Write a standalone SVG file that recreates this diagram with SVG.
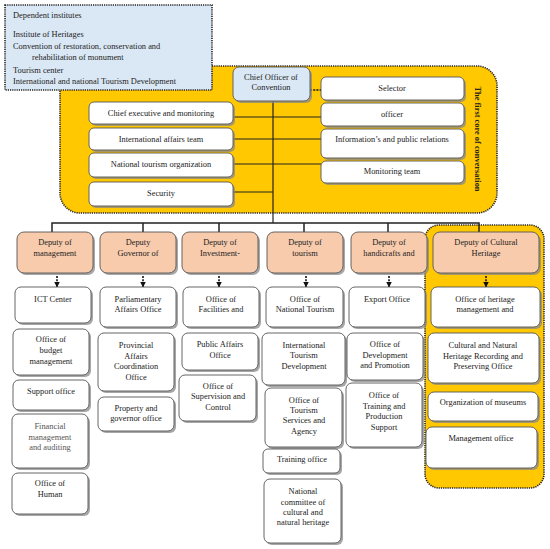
<svg xmlns="http://www.w3.org/2000/svg" width="550" height="549" viewBox="0 0 550 549">
<style>
text{font-family:"Liberation Serif","Times New Roman",serif;font-size:8.4px;fill:#222;text-anchor:middle}
.l{text-anchor:start}
.b{fill:#fff;stroke:#555;stroke-width:0.9}
.sh{fill:#8a8a8a;opacity:0.75}
.dep{fill:#f8cbad;stroke:#555;stroke-width:0.9}
.blue{fill:#dae8f5;stroke:#555;stroke-width:0.9}
.core{fill:#ffc800;stroke:#222;stroke-width:1.6;stroke-dasharray:1.2,1}
.ln{stroke:#222;stroke-width:1.2;fill:none}
.dl{stroke:#111;stroke-width:1.6;stroke-dasharray:2,1.2;fill:none}
</style>
<defs>
<marker id="ah" viewBox="0 0 10 10" refX="9" refY="5" markerWidth="3.5" markerHeight="3.5" orient="auto"><path d="M0,0 L10,5 L0,10 z" fill="#111"/></marker>
</defs>

<!-- core regions -->
<g id="core-convention">
<rect x="60" y="66" width="437" height="147" rx="20" class="core"/>
<text transform="translate(475,139) rotate(90)" style="font-weight:bold">The first core of conversation</text>
</g>
<g id="core-heritage">
<rect x="425" y="225" width="119" height="263" rx="14" class="core"/>
</g>

<!-- dependent institutes -->
<g id="dependent">
<rect x="5" y="5" width="207" height="85" class="blue" style="stroke:#222;stroke-width:1.6;stroke-dasharray:1.2,1"/>
<text class="l" x="13" y="18">Dependent institutes</text>
<text class="l" x="13" y="37">Institute of Heritages</text>
<text class="l" x="13" y="49">Convention of restoration, conservation and</text>
<text class="l" x="32" y="60">rehabilitation of monument</text>
<text class="l" x="13" y="73">Tourism center</text>
<text class="l" x="13" y="84">International and national Tourism Development</text>
</g>

<!-- connectors -->
<g id="connectors">
<path class="ln" d="M273,101 V223 M233,117 H321 M233,139 H321 M233,164 H321 M233,192 H273"/>
<path class="dl" d="M310,90 H321"/>
<path class="ln" style="stroke-width:1.5" d="M52,232 V223 H479 V232 M143,223 V232 M219,223 V232 M304,223 V232 M388,223 V232"/>
<path class="dl" marker-end="url(#ah)" d="M57,276 V287"/>
<path class="dl" marker-end="url(#ah)" d="M143,276 V287"/>
<path class="dl" marker-end="url(#ah)" d="M219,276 V287"/>
<path class="dl" marker-end="url(#ah)" d="M306,276 V287"/>
<path class="dl" marker-end="url(#ah)" d="M389,276 V287"/>
<path class="dl" marker-end="url(#ah)" d="M486,276 V287"/>
</g>

<g id="chief">
<rect x="235" y="69" width="77" height="34" rx="6" class="sh"/>
<rect x="233" y="67" width="77" height="34" rx="6" class="blue"/>
<text x="271" y="80">Chief Officer of</text>
<text x="271" y="90">Convention</text>
</g>

<g id="n-chief-exec"><rect x="91" y="104" width="144" height="22" rx="5" class="sh"/><rect x="89" y="102" width="144" height="22" rx="5" class="b"/><text x="161" y="116">Chief executive and monitoring</text></g>
<g id="n-intl-affairs"><rect x="91" y="130" width="144" height="22" rx="5" class="sh"/><rect x="89" y="128" width="144" height="22" rx="5" class="b"/><text x="161" y="142">International affairs team</text></g>
<g id="n-natl-tourism-org"><rect x="91" y="155" width="144" height="24" rx="5" class="sh"/><rect x="89" y="153" width="144" height="24" rx="5" class="b"/><text x="161" y="167">National tourism organization</text></g>
<g id="n-security"><rect x="91" y="184" width="144" height="24" rx="5" class="sh"/><rect x="89" y="182" width="144" height="24" rx="5" class="b"/><text x="161" y="196">Security</text></g>

<g id="n-selector"><rect x="323" y="79" width="143" height="23" rx="5" class="sh"/><rect x="321" y="77" width="143" height="23" rx="5" class="b"/><text x="392" y="91">Selector</text></g>
<g id="n-officer"><rect x="323" y="105" width="143" height="23" rx="5" class="sh"/><rect x="321" y="103" width="143" height="23" rx="5" class="b"/><text x="392" y="117">officer</text></g>
<g id="n-info"><rect x="323" y="131" width="143" height="29" rx="5" class="sh"/><rect x="321" y="129" width="143" height="29" rx="5" class="b"/><text x="392" y="142">Information’s and public relations</text></g>
<g id="n-monitoring"><rect x="323" y="163" width="143" height="22" rx="5" class="sh"/><rect x="321" y="161" width="143" height="22" rx="5" class="b"/><text x="392" y="174">Monitoring team</text></g>

<!-- deputies -->
<g id="d-management"><rect x="19" y="234" width="76" height="41" rx="7" class="sh"/><rect x="17" y="232" width="76" height="41" rx="7" class="dep"/><text x="55" y="245">Deputy of</text><text x="55" y="256">management</text></g>
<g id="d-governor"><rect x="102" y="234" width="76" height="41" rx="7" class="sh"/><rect x="100" y="232" width="76" height="41" rx="7" class="dep"/><text x="138" y="245">Deputy</text><text x="138" y="256">Governor of</text></g>
<g id="d-investment"><rect x="184" y="234" width="76" height="41" rx="7" class="sh"/><rect x="182" y="232" width="76" height="41" rx="7" class="dep"/><text x="220" y="245">Deputy of</text><text x="220" y="256">Investment-</text></g>
<g id="d-tourism"><rect x="269" y="234" width="76" height="41" rx="7" class="sh"/><rect x="267" y="232" width="76" height="41" rx="7" class="dep"/><text x="305" y="245">Deputy of</text><text x="305" y="256">tourism</text></g>
<g id="d-handicrafts"><rect x="353" y="234" width="76" height="41" rx="7" class="sh"/><rect x="351" y="232" width="76" height="41" rx="7" class="dep"/><text x="389" y="245">Deputy of</text><text x="389" y="256">handicrafts and</text></g>
<g id="d-heritage"><rect x="435" y="234" width="106" height="41" rx="7" class="sh"/><rect x="433" y="232" width="106" height="41" rx="7" class="dep"/><text x="486" y="245">Deputy of Cultural</text><text x="486" y="256">Heritage</text></g>

<!-- column 1 -->
<g id="c1-ict"><rect x="17" y="289" width="76" height="36" rx="6" class="sh"/><rect x="15" y="287" width="76" height="36" rx="6" class="b"/><text x="53" y="302">ICT Center</text></g>
<g id="c1-budget"><rect x="15" y="331" width="76" height="46" rx="6" class="sh"/><rect x="13" y="329" width="76" height="46" rx="6" class="b"/><text x="51" y="342">Office of</text><text x="51" y="353">budget</text><text x="51" y="364">management</text></g>
<g id="c1-support"><rect x="15" y="382" width="76" height="30" rx="6" class="sh"/><rect x="13" y="380" width="76" height="30" rx="6" class="b"/><text x="51" y="394">Support office</text></g>
<g id="c1-financial"><rect x="14" y="416" width="76" height="54" rx="6" class="sh"/><rect x="12" y="414" width="76" height="54" rx="6" class="b"/><text x="50" y="429" style="fill:#555">Financial</text><text x="50" y="440" style="fill:#555">management</text><text x="50" y="450" style="fill:#555">and auditing</text></g>
<g id="c1-human"><rect x="14" y="475" width="76" height="41" rx="6" class="sh"/><rect x="12" y="473" width="76" height="41" rx="6" class="b"/><text x="50" y="486">Office of</text><text x="50" y="497">Human</text></g>

<!-- column 2 -->
<g id="c2-parliament"><rect x="102" y="289" width="76" height="40" rx="6" class="sh"/><rect x="100" y="287" width="76" height="40" rx="6" class="b"/><text x="138" y="302">Parliamentary</text><text x="138" y="312">Affairs Office</text></g>
<g id="c2-provincial"><rect x="100" y="335" width="76" height="58" rx="6" class="sh"/><rect x="98" y="333" width="76" height="58" rx="6" class="b"/><text x="136" y="348">Provincial</text><text x="136" y="359">Affairs</text><text x="136" y="369">Coordination</text><text x="136" y="380">Office</text></g>
<g id="c2-property"><rect x="100" y="399" width="76" height="34" rx="6" class="sh"/><rect x="98" y="397" width="76" height="34" rx="6" class="b"/><text x="136" y="411">Property and</text><text x="136" y="421">governor office</text></g>

<!-- column 3 -->
<g id="c3-facilities"><rect x="185" y="289" width="76" height="40" rx="6" class="sh"/><rect x="183" y="287" width="76" height="40" rx="6" class="b"/><text x="221" y="302">Office of</text><text x="221" y="312">Facilities and</text></g>
<g id="c3-public"><rect x="184" y="335" width="76" height="37" rx="6" class="sh"/><rect x="182" y="333" width="76" height="37" rx="6" class="b"/><text x="220" y="347">Public Affairs</text><text x="220" y="358">Office</text></g>
<g id="c3-supervision"><rect x="181" y="377" width="77" height="46" rx="6" class="sh"/><rect x="179" y="375" width="77" height="46" rx="6" class="b"/><text x="218" y="389">Office of</text><text x="218" y="399">Supervision and</text><text x="218" y="410">Control</text></g>

<!-- column 4 -->
<g id="c4-national"><rect x="268" y="289" width="77" height="40" rx="6" class="sh"/><rect x="266" y="287" width="77" height="40" rx="6" class="b"/><text x="305" y="302">Office of</text><text x="305" y="312">National Tourism</text></g>
<g id="c4-intl"><rect x="264" y="335" width="83" height="52" rx="6" class="sh"/><rect x="262" y="333" width="83" height="52" rx="6" class="b"/><text x="304" y="348">International</text><text x="304" y="358">Tourism</text><text x="304" y="369">Development</text></g>
<g id="c4-services"><rect x="267" y="390" width="77" height="59" rx="6" class="sh"/><rect x="265" y="388" width="77" height="59" rx="6" class="b"/><text x="304" y="403">Office of</text><text x="304" y="413">Tourism</text><text x="304" y="423">Services and</text><text x="304" y="434">Agency</text></g>
<g id="c4-training"><rect x="265" y="451" width="77" height="24" rx="5" class="sh"/><rect x="263" y="449" width="77" height="24" rx="5" class="b"/><text x="302" y="462">Training office</text></g>
<g id="c4-committee"><rect x="266" y="481" width="77" height="64" rx="6" class="sh"/><rect x="264" y="479" width="77" height="64" rx="6" class="b"/><text x="303" y="494">National</text><text x="303" y="505">committee of</text><text x="303" y="515">cultural and</text><text x="303" y="525">natural heritage</text></g>

<!-- column 5 -->
<g id="c5-export"><rect x="351" y="289" width="76" height="40" rx="6" class="sh"/><rect x="349" y="287" width="76" height="40" rx="6" class="b"/><text x="387" y="302">Export Office</text></g>
<g id="c5-development"><rect x="349" y="335" width="76" height="47" rx="6" class="sh"/><rect x="347" y="333" width="76" height="47" rx="6" class="b"/><text x="385" y="347">Office of</text><text x="385" y="358">Development</text><text x="385" y="368">and Promotion</text></g>
<g id="c5-training"><rect x="348" y="385" width="76" height="64" rx="6" class="sh"/><rect x="346" y="383" width="76" height="64" rx="6" class="b"/><text x="384" y="398">Office of</text><text x="384" y="409">Training and</text><text x="384" y="419">Production</text><text x="384" y="430">Support</text></g>

<!-- column 6 -->
<g id="c6-heritage-mgmt"><rect x="433" y="289" width="109" height="40" rx="6" class="sh"/><rect x="431" y="287" width="109" height="40" rx="6" class="b"/><text x="485" y="302">Office of heritage</text><text x="485" y="312">management and</text></g>
<g id="c6-recording"><rect x="430" y="335" width="111" height="50" rx="6" class="sh"/><rect x="428" y="333" width="111" height="50" rx="6" class="b"/><text x="483" y="348">Cultural and Natural</text><text x="483" y="359">Heritage Recording and</text><text x="483" y="369">Preserving Office</text></g>
<g id="c6-museums"><rect x="430" y="394" width="110" height="29" rx="6" class="sh"/><rect x="428" y="392" width="110" height="29" rx="6" class="b"/><text x="483" y="405">Organization of museums</text></g>
<g id="c6-management"><rect x="428" y="429" width="111" height="41" rx="6" class="sh"/><rect x="426" y="427" width="111" height="41" rx="6" class="b"/><text x="481" y="441">Management office</text></g>
</svg>
